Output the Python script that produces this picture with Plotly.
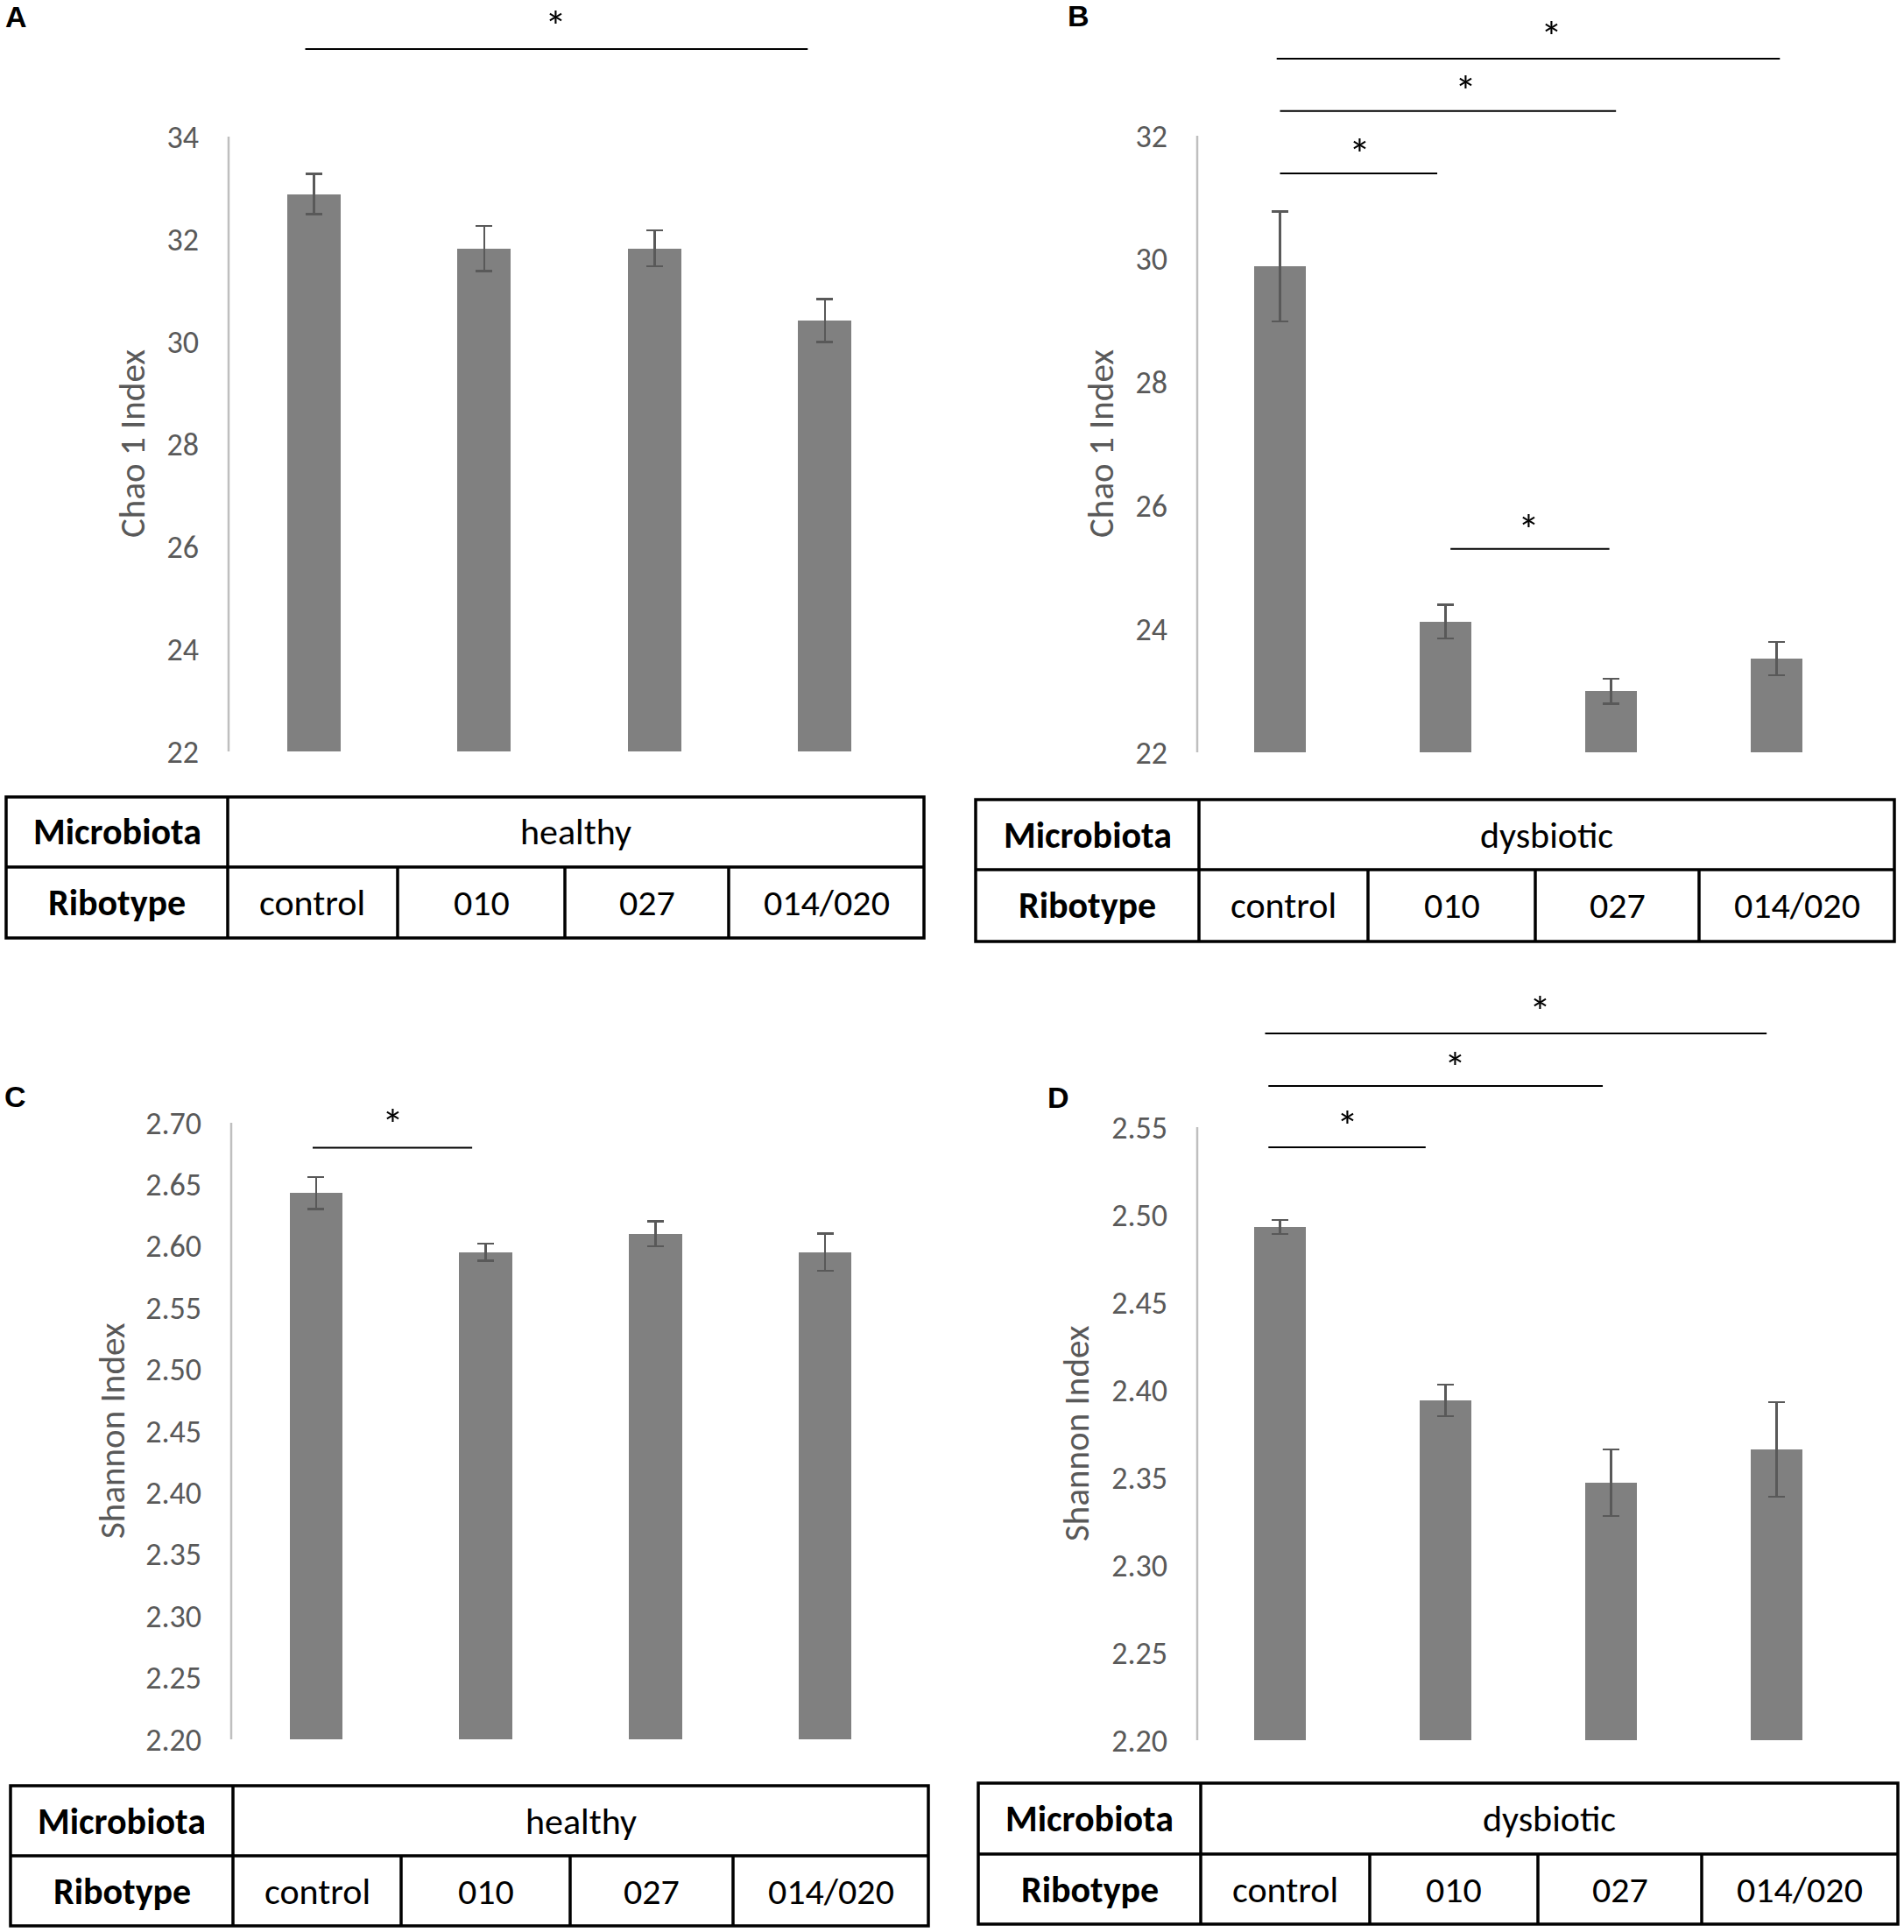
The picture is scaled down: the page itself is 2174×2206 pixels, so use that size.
import plotly.graph_objects as go

W, H = 2174, 2206
FONT = "Carlito, Lato, sans-serif"
LABEL_FONT = "Liberation Sans, Arial, sans-serif"
BAR_COLOR = "#808080"
ERR_COLOR = "#595959"
AXIS_TEXT = "#595959"
AXIS_LINE = "#BFBFBF"

# ---------------- data ----------------
categories = ["control", "010", "027", "014/020"]
row_labels = ["Microbiota", "Ribotype"]

chao_healthy = [32.88, 31.82, 31.82, 30.41]
chao_healthy_err = [0.39, 0.44, 0.35, 0.42]
chao_dysbiotic = [29.88, 24.12, 22.99, 23.52]
chao_dysbiotic_err = [0.89, 0.27, 0.20, 0.27]
shannon_healthy = [2.643, 2.595, 2.610, 2.595]
shannon_healthy_err = [0.013, 0.007, 0.010, 0.015]
shannon_dysbiotic = [2.493, 2.394, 2.347, 2.366]
shannon_dysbiotic_err = [0.004, 0.009, 0.019, 0.027]

chao_healthy_ticks = [22, 24, 26, 28, 30, 32, 34]
chao_dysbiotic_ticks = [22, 24, 26, 28, 30, 32]
shannon_healthy_ticks = [2.20, 2.25, 2.30, 2.35, 2.40, 2.45, 2.50, 2.55, 2.60, 2.65, 2.70]
shannon_dysbiotic_ticks = [2.20, 2.25, 2.30, 2.35, 2.40, 2.45, 2.50, 2.55]

# significance brackets: (from category index, to category index, height in data units, star position)
sig_A = [(-0.05, 2.90, 35.71, 1.42)]
sig_B = [(0.00, 0.95, 31.39, 0.48), (0.00, 2.03, 32.40, 1.12),
         (-0.02, 3.02, 33.25, 1.64), (1.03, 1.99, 25.30, 1.50)]
sig_C = [(-0.02, 0.92, 2.6798, 0.45)]
sig_D = [(-0.07, 0.88, 2.5385, 0.41), (-0.07, 1.95, 2.5735, 1.06), (-0.09, 2.94, 2.6035, 1.57)]

# ---------------- layout (pixel geometry) ----------------
panels = [
    dict(letter="A", means=chao_healthy, errs=chao_healthy_err, ticks=chao_healthy_ticks,
         fmt="d", title="Chao 1 Index", microbiota="healthy", sig=sig_A, star_gap=[35],
         xl=261, xr=1039, ymin_px=858, ymax_px=156, top_px=0,
         letter_xy=(18, 19), title_xy=(151, 507),
         table=dict(l=7, r=1055, t=910, m=990, b=1071, div=[260, 454, 645, 832])),
    dict(letter="B", means=chao_dysbiotic, errs=chao_dysbiotic_err, ticks=chao_dysbiotic_ticks,
         fmt="d", title="Chao 1 Index", microbiota="dysbiotic", sig=sig_B, star_gap=[31.5, 32, 35, 31],
         xl=1367, xr=2123, ymin_px=859, ymax_px=155, top_px=0,
         letter_xy=(1231, 18), title_xy=(1257, 507),
         table=dict(l=1114, r=2163, t=913, m=993, b=1075, div=[1369, 1562, 1753, 1940])),
    dict(letter="C", means=shannon_healthy, errs=shannon_healthy_err, ticks=shannon_healthy_ticks,
         fmt=".2f", title="Shannon Index", microbiota="healthy", sig=sig_C, star_gap=[35.5],
         xl=264, xr=1039, ymin_px=1986, ymax_px=1282, top_px=1103,
         letter_xy=(17, 1252), title_xy=(128, 1634),
         table=dict(l=12, r=1060, t=2039, m=2119, b=2199, div=[266, 458, 651, 837])),
    dict(letter="D", means=shannon_dysbiotic, errs=shannon_dysbiotic_err, ticks=shannon_dysbiotic_ticks,
         fmt=".2f", title="Shannon Index", microbiota="dysbiotic", sig=sig_D, star_gap=[34, 31, 35],
         xl=1367, xr=2123, ymin_px=1987, ymax_px=1287, top_px=1103,
         letter_xy=(1208, 1253), title_xy=(1229, 1637),
         table=dict(l=1117, r=2167, t=2036, m=2117, b=2197, div=[1371, 1564, 1756, 1943])),
]


def PX(x):
    return x / W


def PY(y):
    return 1 - y / H


fig = go.Figure()
shapes = []
annotations = []
layout_axes = {}

for i, p in enumerate(panels):
    sfx = "" if i == 0 else str(i + 1)
    xa, ya = "x" + sfx, "y" + sfx
    ticks = p["ticks"]
    ymin, ymax = ticks[0], ticks[-1]
    ppu = (p["ymin_px"] - p["ymax_px"]) / (ymax - ymin)
    range_top = ymin + (p["ymin_px"] - p["top_px"]) / ppu

    fig.add_trace(go.Bar(
        x=categories, y=p["means"], xaxis=xa, yaxis=ya,
        width=0.313,
        marker=dict(color=BAR_COLOR, line=dict(width=0)),
        error_y=dict(type="data", array=p["errs"], visible=True,
                     color=ERR_COLOR, thickness=2.5, width=9.5),
        showlegend=False, hoverinfo="skip",
    ))

    layout_axes["xaxis" + sfx] = dict(
        domain=[PX(p["xl"]), PX(p["xr"])], anchor=ya,
        type="category", categoryarray=categories, categoryorder="array",
        range=[-0.5, 3.5], showticklabels=False, showline=False,
        showgrid=False, zeroline=False, ticks="", fixedrange=True,
        automargin=False,
    )
    layout_axes["yaxis" + sfx] = dict(
        domain=[PY(p["ymin_px"]), PY(p["top_px"])], anchor=xa,
        range=[ymin, range_top], tickvals=ticks, tickformat=p["fmt"],
        tickfont=dict(family=FONT, size=36, color=AXIS_TEXT),
        showline=False, showgrid=False, zeroline=False, ticks="",
        ticklabelstandoff=33, fixedrange=True, automargin=False,
    )

    # vertical value axis line (only over the tick range)
    shapes.append(dict(type="line", xref=xa + " domain", yref=ya,
                       x0=0, x1=0, y0=ymin, y1=ymax,
                       line=dict(color=AXIS_LINE, width=2.5)))

    # significance brackets and stars
    for (a, b, h, s), gap in zip(p["sig"], p["star_gap"]):
        shapes.append(dict(type="line", xref=xa, yref=ya, x0=a, x1=b, y0=h, y1=h,
                           line=dict(color="black", width=2)))
        annotations.append(dict(xref=xa, yref=ya, x=s, y=h, text="*",
                                showarrow=False, xanchor="center", yanchor="middle",
                                height=40, valign="middle",
                                yshift=gap - 8.5, font=dict(family=FONT, size=50, color="black")))

    # panel letter
    lx, ly = p["letter_xy"]
    annotations.append(dict(xref="paper", yref="paper", x=PX(lx), y=PY(ly), text="<b>%s</b>" % p["letter"],
                            showarrow=False, xanchor="center", yanchor="middle",
                            font=dict(family=LABEL_FONT, size=34, color="black")))

    # y axis title
    tx, ty = p["title_xy"]
    annotations.append(dict(xref="paper", yref="paper", x=PX(tx), y=PY(ty), text=p["title"],
                            textangle=-90, showarrow=False, xanchor="center", yanchor="middle",
                            font=dict(family=FONT, size=41, color=AXIS_TEXT)))

    # table below the chart
    t = p["table"]
    lw = 3.5
    shapes.append(dict(type="rect", xref="paper", yref="paper",
                       x0=PX(t["l"]), x1=PX(t["r"]), y0=PY(t["t"]), y1=PY(t["b"]),
                       line=dict(color="black", width=lw)))
    shapes.append(dict(type="line", xref="paper", yref="paper",
                       x0=PX(t["l"]), x1=PX(t["r"]), y0=PY(t["m"]), y1=PY(t["m"]),
                       line=dict(color="black", width=lw)))
    shapes.append(dict(type="line", xref="paper", yref="paper",
                       x0=PX(t["div"][0]), x1=PX(t["div"][0]), y0=PY(t["t"]), y1=PY(t["b"]),
                       line=dict(color="black", width=lw)))
    for d in t["div"][1:]:
        shapes.append(dict(type="line", xref="paper", yref="paper",
                           x0=PX(d), x1=PX(d), y0=PY(t["m"]), y1=PY(t["b"]),
                           line=dict(color="black", width=lw)))

    row1_y = (t["t"] + t["m"]) / 2
    row2_y = (t["m"] + t["b"]) / 2
    label_x = (t["l"] + t["div"][0]) / 2
    for txt, ry in zip(row_labels, [row1_y, row2_y]):
        annotations.append(dict(xref="paper", yref="paper", x=PX(label_x), y=PY(ry),
                                text="<b>%s</b>" % txt, showarrow=False,
                                xanchor="center", yanchor="middle",
                                font=dict(family=FONT, size=42, color="black")))
    annotations.append(dict(xref="paper", yref="paper", x=PX((t["div"][0] + t["r"]) / 2), y=PY(row1_y),
                            text=p["microbiota"], showarrow=False,
                            xanchor="center", yanchor="middle",
                            font=dict(family=FONT, size=42, color="black")))
    edges = t["div"] + [t["r"]]
    for k, cat in enumerate(categories):
        cx = (edges[k] + edges[k + 1]) / 2
        annotations.append(dict(xref="paper", yref="paper", x=PX(cx), y=PY(row2_y),
                                text=cat, showarrow=False,
                                xanchor="center", yanchor="middle",
                                font=dict(family=FONT, size=42, color="black")))

fig.update_layout(
    width=W, height=H, autosize=False,
    margin=dict(l=0, r=0, t=0, b=0, pad=0, autoexpand=False),
    paper_bgcolor="white", plot_bgcolor="white",
    bargap=0, showlegend=False,
    shapes=shapes, annotations=annotations,
    **layout_axes,
)

page_fix = (
    "var de=document.documentElement, bd=document.body;"
    "de.style.margin='0';de.style.padding='0';de.style.overflow='hidden';"
    "bd.style.margin='0';bd.style.padding='0';bd.style.overflow='hidden';"
    "bd.style.fontSize='0';bd.style.lineHeight='0';"
)

fig.write_html("out.html", config={"displayModeBar": False}, post_script=page_fix)
